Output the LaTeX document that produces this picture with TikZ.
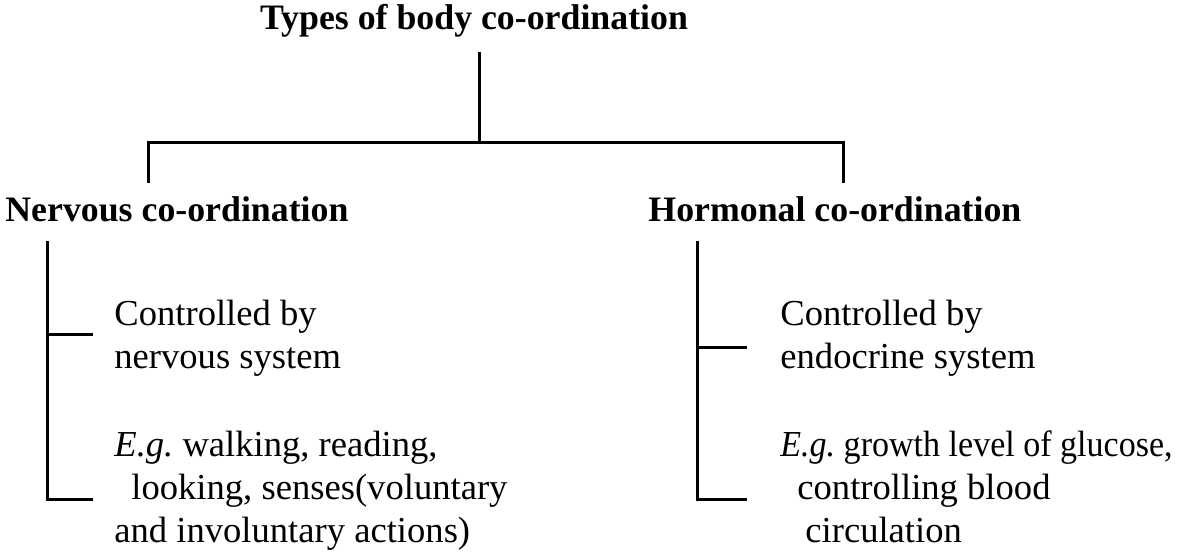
\documentclass[tikz,border=0pt]{standalone}
\usepackage{fontspec}
\setmainfont{Liberation Serif}

\begin{document}
\begin{tikzpicture}[x=0.5pt,y=-0.5pt,
    txt/.style={anchor=base west,inner sep=0pt,font=\fontsize{18.3}{22}\selectfont},
    head/.style={anchor=base west,inner sep=0pt,font=\fontsize{17.9}{22}\selectfont\bfseries},
    branch/.style={line width=1.5pt}]
    \useasboundingbox (0,0) rectangle (1180,556);

    \node[head,anchor=base] (title) at (474,30) {Types of body co-ordination};
    \node[head] (nerv) at (5,222) {Nervous co-ordination};
    \node[head] (horm) at (648,222) {Hormonal co-ordination};

    \node[txt] (n1) at (114,326) {Controlled by};
    \node[txt] (n2) at (114,368) {nervous system};
    \node[txt] (n3) at (114,456) {{\itshape E.g.}\ walking, reading,};
    \node[txt] (n4) at (131,499) {looking, senses(voluntary};
    \node[txt] (n5) at (114,542) {and involuntary actions)};

    \node[txt] (h1) at (780,326) {Controlled by};
    \node[txt] (h2) at (780,368) {endocrine system};
    \node[txt,font=\fontsize{18.3}{22}\selectfont\addfontfeatures{FakeStretch=0.93}]
        (h3) at (780,456) {{\itshape E.g.}\ growth level of glucose,};
    \node[txt] (h4) at (797,499) {controlling blood};
    \node[txt] (h5) at (805,542) {circulation};

    \coordinate (fork) at (479,143);
    \coordinate (ldrop) at (148,143);
    \coordinate (rdrop) at (843,143);
    \coordinate (lstem) at (47,499);
    \coordinate (rstem) at (697,499);
    \coordinate (nt1) at (93,335);
    \coordinate (nt2) at (93,499);
    \coordinate (ht1) at (747,348);
    \coordinate (ht2) at (747,499);

    % top of the tree
    \draw[branch,shorten <=7pt] (title.south -| fork) -- (fork);
    \draw[branch,shorten <=7pt,shorten >=7pt] (ldrop |- nerv.north) -- (ldrop) -- (rdrop) -- (rdrop |- horm.north);

    % nervous side
    \draw[branch,shorten <=9pt] (nerv.south -| lstem) |- (nt2);
    \draw[branch] (lstem |- nt1) -- (nt1);

    % hormonal side
    \draw[branch,shorten <=9pt] (horm.south -| rstem) |- (ht2);
    \draw[branch] (rstem |- ht1) -- (ht1);

\end{tikzpicture}
\end{document}
